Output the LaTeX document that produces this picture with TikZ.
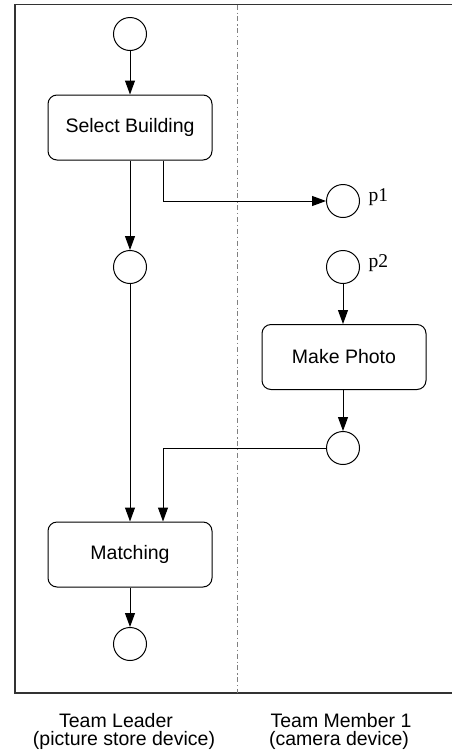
\documentclass[tikz,border=0pt]{standalone}
\usepackage{fontspec}
\setmainfont{Liberation Sans}
\newfontfamily\pinfont{Liberation Serif}
\usetikzlibrary{arrows.meta}
\begin{document}
\begin{tikzpicture}[x=1pt,y=-1pt,
  every node/.style={font=\fontsize{19.5}{22}\selectfont},
  state/.style={circle,draw,line width=1pt,minimum size=33pt,inner sep=0pt},
  activity/.style={rectangle,rounded corners=9pt,draw,line width=1pt,
    minimum width=164pt,minimum height=65pt,inner sep=0pt},
  flow/.style={line width=1pt,-{Triangle[length=14pt,width=10pt]}},
  pin/.style={font=\pinfont\fontsize{19.5}{22}\selectfont,anchor=west,inner sep=0pt},
  lane/.style={inner sep=0pt,anchor=base}]
  \useasboundingbox (0,0) rectangle (452,756);

  % swimlane frame
  \draw[line width=1.3pt,draw=black!80] (452,4.5) -- (15,4.5) -- (15,693) -- (452,693);
  \draw[draw=black!50,line width=1pt,dash pattern=on 5pt off 3pt on 1.3pt off 2.5pt]
    (237,4.5) -- (237,693);

  % Team Leader lane
  \node[state] (start) at (130,34) {};
  \node[activity] (sel) at (130,127.5) {Select Building};
  \node[state] (wait) at (130,267) {};
  \node[activity] (match) at (130,554.5) {Matching};
  \node[state] (end) at (130,644) {};

  % Team Member lane
  \node[state] (p1) at (343,201) {};
  \node[state] (p2) at (343,267) {};
  \node[activity] (photo) at (344,357) {Make Photo};
  \node[state] (done) at (343,448) {};

  \node[pin] at ([xshift=8.5pt,yshift=4pt]p1.east) {p1};
  \node[pin] at ([xshift=8.5pt,yshift=4pt]p2.east) {p2};

  % control flow
  \draw[flow] (start) -- (sel);
  \draw[flow] (sel) -- (wait);
  \draw[flow] ([xshift=33pt]sel.south) |- (p1);
  \draw[flow] (p2) -- (p2 |- photo.north);
  \draw[flow] (photo.south -| done) -- (done);
  \draw[flow] (done) -| ([xshift=33pt]match.north);
  \draw[flow] (wait) -- (match);
  \draw[flow] (match) -- (end);

  % lane captions
  \node[lane] (tl) at (116,727) {Team Leader};
  \node[lane] (tld) at (124,745) {(picture store device)};
  \node[lane] (tm) at (341,727) {Team Member 1};
  \node[lane] (tmd) at (339,745) {(camera device)};
\end{tikzpicture}
\end{document}
